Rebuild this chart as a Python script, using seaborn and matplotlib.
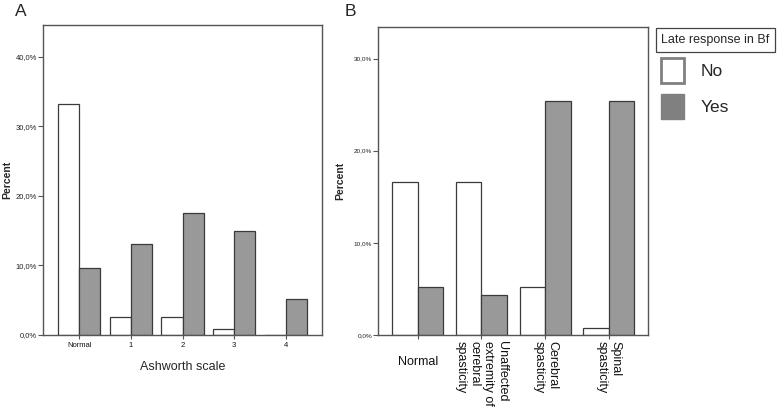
import matplotlib
matplotlib.use("Agg")
import matplotlib.pyplot as plt
import matplotlib.transforms as mtransforms
from matplotlib.patches import Patch
from matplotlib.ticker import FuncFormatter
import seaborn as sns
import pandas as pd

sns.set_style("white")
plt.rcParams['font.family'] = ['Liberation Sans', 'DejaVu Sans']

# ---- data ----
responses = ["No", "Yes"]
cats_a = ["Normal", "1", "2", "3", "4"]
no_a = [33.3, 2.6, 2.6, 0.8, 0.0]
yes_a = [9.6, 13.1, 17.6, 15.0, 5.2]

cats_b = ["Normal",
          "Unaffected\nextremity of\ncerebral\nspasticity",
          "Cerebral\nspasticity",
          "Spinal\nspasticity"]
no_b = [16.6, 16.6, 5.2, 0.8]
yes_b = [5.2, 4.3, 25.4, 25.4]

yticks_a = [0, 10, 20, 30, 40]
yticks_b = [0, 10, 20, 30]

df_a = pd.DataFrame({"cat": cats_a * 2, "pct": no_a + yes_a,
                     "resp": [responses[0]] * len(cats_a) + [responses[1]] * len(cats_a)})
df_b = pd.DataFrame({"cat": cats_b * 2, "pct": no_b + yes_b,
                     "resp": [responses[0]] * len(cats_b) + [responses[1]] * len(cats_b)})

palette = {"No": "white", "Yes": "#999999"}
edge = "#3a3a3a"
frame = "#555555"

fig = plt.figure(figsize=(7.78, 4.07), dpi=100)
W, H = 778, 407
axA = fig.add_axes([43 / W, (H - 335) / H, 279 / W, 310 / H])
axB = fig.add_axes([378.3 / W, (H - 335) / H, 270 / W, 307.7 / H])

pct_fmt = FuncFormatter(lambda v, p: f"{v:.1f}".replace(".", ",") + "%")

for ax, df, order, width, ymax, yt, yfs in [
        (axA, df_a, cats_a, 0.82, 44.6, yticks_a, 5.5),
        (axB, df_b, cats_b, 0.80, 33.4, yticks_b, 4.6)]:
    sns.barplot(data=df, x="cat", y="pct", hue="resp", order=order,
                hue_order=responses, palette=palette, edgecolor=edge,
                linewidth=0.9, width=width, gap=0, ax=ax, legend=False)
    ax.set_ylim(0, ymax)
    ax.set_yticks(yt)
    ax.yaxis.set_major_formatter(pct_fmt)
    for s in ax.spines.values():
        s.set_visible(True)
        s.set_color(frame)
        s.set_linewidth(1.0)
    ax.tick_params(axis="y", which="major", left=True, length=3.5, width=0.8,
                   color=frame, labelsize=yfs, pad=1, labelcolor="#222222")
    ax.tick_params(axis="x", which="major", bottom=True, length=3, width=0.8,
                   color=frame, pad=2, labelcolor="#111111")
    ax.set_ylabel("Percent", fontsize=7.5, fontweight="bold")

axA.set_xlim(-0.7, 4.7)
axB.set_xlim(-0.62, 3.62)

axA.tick_params(axis="x", labelsize=5.5)
axA.set_xlabel("Ashworth scale", fontsize=9, labelpad=9)
axA.yaxis.set_label_coords(-0.112, 0.5)

axB.set_xlabel("")
axB.tick_params(axis="x", labelsize=9, pad=1.5)
axB.yaxis.set_label_coords(-0.123, 0.5)
for i, lab in enumerate(axB.get_xticklabels()):
    if i == 0:
        lab.set_transform(lab.get_transform() +
                          mtransforms.ScaledTranslation(0, -10.5 / 72, fig.dpi_scale_trans))
    else:
        lab.set_rotation(270)
        lab.set_ha("center")
        lab.set_va("top")
        lab.set_multialignment("left")
        lab.set_linespacing(1.22)

# panel letters
fig.text(15 / W, 1 - 11 / H, "A", fontsize=12.5, ha="left", va="center")
fig.text(345 / W, 1 - 11 / H, "B", fontsize=12.5, ha="left", va="center")

# legend
fig.text(715.5 / W, 1 - 40 / H, "Late response in Bf", fontsize=9,
         ha="center", va="center",
         bbox=dict(boxstyle="square,pad=0.45", fc="white", ec="#444444", lw=0.9))
handles = [Patch(facecolor="white", edgecolor="#808080", linewidth=2.0, label="No"),
           Patch(facecolor="#808080", edgecolor="#808080", linewidth=1.0, label="Yes")]
fig.legend(handles=handles, loc="upper left",
           bbox_to_anchor=(661 / W, 1 - 58 / H), frameon=False,
           fontsize=12.5, handlelength=1.3, handleheight=1.85,
           handletextpad=1.0, labelspacing=0.6, borderpad=0, borderaxespad=0)

fig.savefig("out.png", dpi=100)
